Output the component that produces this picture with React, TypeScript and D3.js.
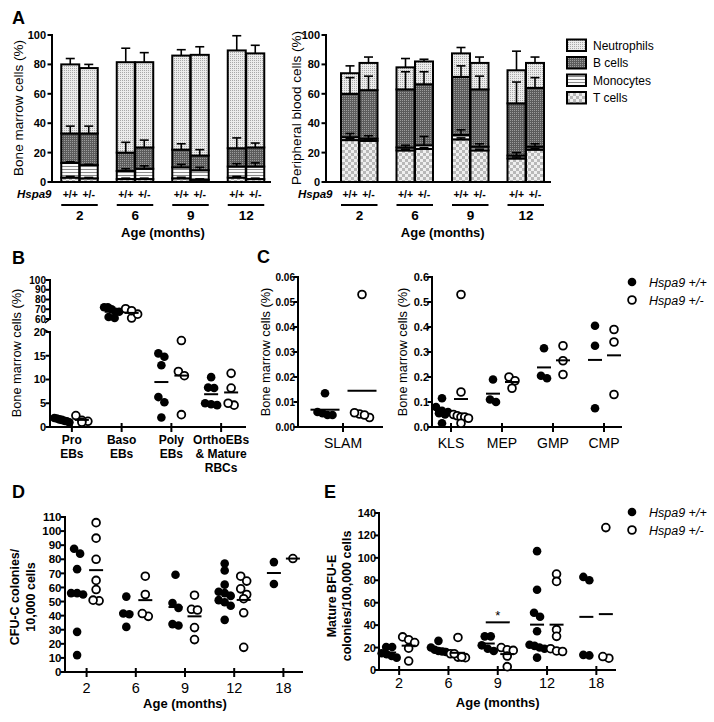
import React from 'react';
import * as d3 from 'd3';

const FONT = "'Liberation Sans', Arial, Helvetica, sans-serif";

// ---------------- Panel A data ----------------
const ageA = ['2', '6', '9', '12'];
const genoLabels = ['+/+', '+/-'];
const layerKeys = ['T', 'Mono', 'B', 'Neut']; // bottom -> top
const legendLabels = ['Neutrophils', 'B cells', 'Monocytes', 'T cells'];
const legendKeys = ['Neut', 'B', 'Mono', 'T'];
const tickA = [0, 20, 40, 60, 80, 100];

// bar order: 2 +/+, 2 +/-, 6 +/+, 6 +/-, 9 +/+, 9 +/-, 12 +/+, 12 +/-
const bmT = [3, 2.5, 2, 2, 2.5, 1.5, 3, 2];
const bmMono = [10, 9, 5.5, 7, 7.5, 6.5, 7.5, 8.5];
const bmB = [20, 21.5, 12.5, 14.5, 12, 10, 12.5, 13];
const bmNeut = [47, 44.5, 61.5, 58, 64, 68.5, 66.5, 64];
const bmTErr = [0.8, 0.6, 0.6, 0.6, 0.7, 0.6, 0.8, 0.6];
const bmMonoErr = [0.8, 0.5, 1.5, 2, 2, 2, 2, 2.5];
const bmBErr = [5, 5, 7, 5, 4, 4, 7, 3];
const bmNeutErr = [4, 2.5, 9.5, 6.5, 4, 5.5, 10, 5.5];

const pbT = [28.5, 28, 21.5, 22.5, 29, 21.5, 16, 22];
const pbMono = [2, 1.5, 2, 2.5, 3, 2.5, 2, 2];
const pbB = [29.5, 33, 39.5, 41.5, 39.5, 39, 35.5, 40];
const pbNeut = [14, 18.5, 15, 15.5, 16, 18, 22.5, 17];
const pbTErr = [1, 1, 0.8, 0.8, 1, 0.8, 1, 0.8];
const pbMonoErr = [2.5, 2, 1.5, 6, 3.5, 2, 2, 2];
const pbBErr = [11, 9.5, 12, 8.5, 7.5, 9, 14.5, 7];
const pbNeutErr = [5, 4, 6, 1.5, 4, 4, 13, 4];

// ---------------- Panel B data ----------------
const catsB = [['Pro', 'EBs'], ['Baso', 'EBs'], ['Poly', 'EBs'], ['OrthoEBs', '& Mature', 'RBCs']];
const bWT = [
  [1.9, 1.6, 1.5, 1.3, 1.2, 1.0, 1.8],
  [72, 72, 70, 67.5, 67.5, 61, 62],
  [15.5, 14.8, 13, 6.3, 5.2, 2],
  [10.5, 8.3, 8.2, 5, 4.6, 4.8],
];
const bHet = [
  [1.2, 1.4, 1.0, 2.4],
  [70.5, 61, 65, 68.5],
  [18.2, 11.7, 10.8, 2.6],
  [11.3, 8.2, 4.6, 5],
];
const tickBLow = [0, 5, 10, 15, 20];
const tickBHigh = [60, 70, 80, 90, 100];

// ---------------- Panel C data ----------------
const slamWT = [0.0135, 0.0055, 0.0048, 0.0048, 0.006];
const slamHet = [0.053, 0.0052, 0.0038, 0.0048, 0.0057];
const catsC = ['KLS', 'MEP', 'GMP', 'CMP'];
const cWT = [
  [0.115, 0.08, 0.065, 0.06, 0.055, 0.05, 0.015],
  [0.19, 0.1, 0.11],
  [0.315, 0.205, 0.195],
  [0.405, 0.325, 0.075],
];
const cHet = [
  [0.53, 0.14, 0.05, 0.045, 0.04, 0.04, 0.035, 0.015],
  [0.2, 0.185, 0.155],
  [0.325, 0.265, 0.21],
  [0.39, 0.34, 0.13],
];
const tickC1 = [0, 0.01, 0.02, 0.03, 0.04, 0.05, 0.06];
const tickC2 = [0, 0.1, 0.2, 0.3, 0.4, 0.5, 0.6];

// ---------------- Panel D / E data ----------------
const agesDE = ['2', '6', '9', '12', '18'];
const dWT = [
  [84, 87.5, 73, 56, 56, 55, 28.5, 12],
  [53.5, 41.5, 41, 32],
  [69, 49, 45.5, 33, 34],
  [77, 72, 62, 57, 56, 54, 51, 49.5, 47, 37],
  [78, 62.5],
];
const dHet = [
  [106, 95, 80, 65, 58.5, 50.5, 51],
  [68, 55, 39.5, 41.5],
  [54.5, 44.5, 44, 31.5, 23],
  [68, 64.5, 59, 55, 52, 42, 17.5],
  [80.5],
];
const eWT = [
  [20.5, 20.5, 15, 14, 12.5, 11],
  [26, 20, 18, 17, 16, 16.5],
  [30, 30, 22, 19, 17],
  [106, 71.5, 51, 47.5, 34.5, 22.5, 21.5, 20, 19, 11],
  [83, 80, 13, 13.5],
];
const eHet = [
  [29.5, 27, 24.5, 19.5, 8],
  [29, 14.5, 11.5, 11, 11.5, 14.5],
  [20, 18, 17.5, 12.5, 3],
  [85.5, 79, 36, 30, 19, 17, 16.5],
  [127, 10.5, 12],
];
const tickD = d3.range(0, 111, 10);
const tickE = d3.range(0, 141, 20);
const sigE = { age: '9', value: 42.5, label: '*' };
const legendGeno = ['Hspa9 +/+', 'Hspa9 +/-'];

// ---------------- helpers ----------------
function swarmOffsets(vals: number[], y: (v: number) => number, spacing = 6, maxW = 15) {
  const order = vals.map((_, i) => i).sort((a, b) => vals[b] - vals[a]);
  const offs = new Array(vals.length).fill(0);
  let i = 0;
  while (i < order.length) {
    const start = y(vals[order[i]]);
    let j = i + 1;
    while (j < order.length && Math.abs(y(vals[order[j]]) - start) < 6) j++;
    const n = j - i;
    const sp = n > 1 ? Math.min(spacing, maxW / (n - 1)) : 0;
    for (let k = 0; k < n; k++) offs[order[i + k]] = (k - (n - 1) / 2) * sp;
    i = j;
  }
  return offs;
}

function Dots({ vals, cx, y, filled, meanW = 14, spacing = 6 }: any) {
  const offs = swarmOffsets(vals, y, spacing);
  const m = d3.mean(vals) as number;
  return (
    <g>
      {vals.map((v: number, i: number) => (
        <circle key={i} cx={cx + offs[i]} cy={y(v)} r={filled ? 4.3 : 3.9}
          fill={filled ? '#000' : '#fff'} stroke="#000" strokeWidth={filled ? 0 : 1.8} />
      ))}
      <line x1={cx - meanW / 2} x2={cx + meanW / 2} y1={y(m)} y2={y(m)} stroke="#000" strokeWidth={2} />
    </g>
  );
}

function YAxis({ x, scale, ticks, fmt, fs = 11, gap = 6 }: any) {
  return (
    <g>
      <line x1={x} x2={x} y1={scale(ticks[0]) + 1} y2={scale(ticks[ticks.length - 1]) - 1} stroke="#000" strokeWidth={2} />
      {ticks.map((t: number) => (
        <g key={t}>
          <line x1={x - 4.5} x2={x} y1={scale(t)} y2={scale(t)} stroke="#000" strokeWidth={2} />
          <text x={x - gap} y={scale(t)} dy="0.36em" textAnchor="end" fontWeight="bold" fontSize={fs}>{fmt(t)}</text>
        </g>
      ))}
    </g>
  );
}

function VLabel({ x, y, text, fs = 13, bold = false }: any) {
  return (
    <text transform={`translate(${x},${y}) rotate(-90)`} textAnchor="middle" dominantBaseline="central"
      fontSize={fs} fontWeight={bold ? 'bold' : 'normal'}>{text}</text>
  );
}

const patFill: Record<string, string> = { Neut: 'url(#patNeut)', B: 'url(#patB)', Mono: 'url(#patMono)', T: 'url(#patT)' };

function StackPanel({ layers, errs, axisX, range, axisEnd, ylabel, ylabelX, hspaX }: any) {
  const y = d3.scaleLinear().domain([0, 100]).range([182, 35]);
  const xg = d3.scaleBand<string>().domain(ageA).range(range);
  const xs = d3.scaleBand<string>().domain(genoLabels).range([0, 37]);
  const rows = layers[0].map((_: number, i: number) =>
    Object.fromEntries(layerKeys.map((k, li) => [k, layers[li][i]])));
  const series = d3.stack<any>().keys(layerKeys)(rows);
  const barLeft = (i: number) => {
    const c = (xg(ageA[Math.floor(i / 2)]) as number) + xg.bandwidth() / 2;
    return c - 18.5 + (xs(genoLabels[i % 2]) as number);
  };
  const bw = 18;
  return (
    <g>
      {series.map((s, li) => s.map((d, i) => (
        <rect key={`${li}-${i}`} x={barLeft(i)} y={y(d[1])} width={bw} height={y(d[0]) - y(d[1])}
          fill={patFill[layerKeys[li]]} stroke="#000" strokeWidth={2} />
      )))}
      {series.map((s, li) => s.map((d, i) => {
        const cx = barLeft(i) + bw / 2;
        const top = y(d[1]);
        const e = y(d[1] + errs[li][i]);
        return (
          <g key={`e${li}-${i}`}>
            <line x1={cx} x2={cx} y1={top} y2={e} stroke="#000" strokeWidth={1.6} />
            <line x1={cx - 4.5} x2={cx + 4.5} y1={e} y2={e} stroke="#000" strokeWidth={1.6} />
          </g>
        );
      }))}
      <YAxis x={axisX} scale={y} ticks={tickA} fmt={(t: number) => `${t}`} />
      <line x1={axisX - 1} x2={axisEnd} y1={182} y2={182} stroke="#000" strokeWidth={2} />
      <VLabel x={ylabelX} y={108} text={ylabel} fs={13.5} />
      <text x={hspaX} y={198} fontSize={11.5} fontWeight="bold" fontStyle="italic">Hspa9</text>
      {layers[0].map((_: number, i: number) => (
        <text key={`g${i}`} x={barLeft(i) + bw / 2} y={198} textAnchor="middle" fontSize={10.5} fontWeight="bold">
          {genoLabels[i % 2]}
        </text>
      ))}
      {ageA.map((a) => {
        const c = (xg(a) as number) + xg.bandwidth() / 2;
        return (
          <g key={a}>
            <line x1={c - 18.5} x2={c + 18} y1={205} y2={205} stroke="#000" strokeWidth={2} />
            <text x={c} y={219.5} textAnchor="middle" fontSize={13.5} fontWeight="bold">{a}</text>
          </g>
        );
      })}
      <text x={((xg('2') as number) + (xg('12') as number) + xg.bandwidth()) / 2} y={237}
        textAnchor="middle" fontSize={13} fontWeight="bold">Age (months)</text>
    </g>
  );
}

function GenoLegend({ x, y }: any) {
  return (
    <g>
      {legendGeno.map((l, i) => (
        <g key={l}>
          <circle cx={x} cy={y + i * 18} r={i === 0 ? 4.3 : 3.9} fill={i === 0 ? '#000' : '#fff'} stroke="#000" strokeWidth={i === 0 ? 0 : 1.8} />
          <text x={x + 17} y={y + i * 18} dy="0.36em" fontSize={12.5} fontStyle="italic">{l}</text>
        </g>
      ))}
    </g>
  );
}

export default function App() {
  // Panel B scales
  const yLow = d3.scaleLinear().domain([0, 20]).range([427, 332]);
  const yHigh = d3.scaleLinear().domain([60, 100]).range([319, 280]);
  const yB = (v: number) => (v <= 40 ? yLow(v) : yHigh(v));
  const xB = d3.scaleBand<string>().domain(catsB.map((c) => c.join(' '))).range([47, 246]);

  // Panel C scales
  const yC1 = d3.scaleLinear().domain([0, 0.06]).range([427, 277]);
  const yC2 = d3.scaleLinear().domain([0, 0.6]).range([427, 277]);
  const xC1 = d3.scalePoint<string>().domain(['SLAM']).range([343, 343]);
  const xC2 = d3.scaleBand<string>().domain(catsC).range([425.5, 629.5]);

  // Panel D / E scales
  const yD = d3.scaleLinear().domain([0, 110]).range([672, 517]);
  const xD = d3.scaleBand<string>().domain(agesDE).range([62, 308]);
  const yE = d3.scaleLinear().domain([0, 140]).range([670, 513]);
  const xE = d3.scaleBand<string>().domain(agesDE).range([374.5, 621]);

  const cB = (i: number) => (xB(catsB[i].join(' ')) as number) + xB.bandwidth() / 2;
  const cC2 = (c: string) => (xC2(c) as number) + xC2.bandwidth() / 2;
  const cD = (a: string) => (xD(a) as number) + xD.bandwidth() / 2;
  const cE = (a: string) => (xE(a) as number) + xE.bandwidth() / 2;

  return (
    <svg width={714} height={722} style={{ position: 'absolute', left: 0, top: 0, background: '#fff' }}
      fontFamily={FONT}>
      <defs>
        <pattern id="patNeut" width={2} height={2} patternUnits="userSpaceOnUse">
          <rect width={2} height={2} fill="#ececec" />
          <rect width={1} height={1} fill="#a8a8a8" />
        </pattern>
        <pattern id="patB" width={2} height={2} patternUnits="userSpaceOnUse">
          <rect width={2} height={2} fill="#5c5c5c" />
          <rect width={1} height={1} fill="#9c9c9c" />
        </pattern>
        <pattern id="patMono" width={3} height={3} patternUnits="userSpaceOnUse">
          <rect width={3} height={3} fill="#fafafa" />
          <rect y={1} width={3} height={1} fill="#8a8a8a" />
        </pattern>
        <pattern id="patT" width={6} height={6} patternUnits="userSpaceOnUse">
          <rect width={6} height={6} fill="#efefef" />
          <rect width={3} height={3} fill="#b8b8b8" />
          <rect x={3} y={3} width={3} height={3} fill="#b8b8b8" />
        </pattern>
      </defs>
      <rect width={714} height={722} fill="#fff" />

      {/* ---------- A ---------- */}
      <text x={12} y={24} fontSize={18} fontWeight="bold">A</text>
      <StackPanel layers={[bmT, bmMono, bmB, bmNeut]} errs={[bmTErr, bmMonoErr, bmBErr, bmNeutErr]}
        axisX={52} range={[52, 274]} axisEnd={271} ylabel="Bone marrow cells (%)" ylabelX={18} hspaX={17} />
      <StackPanel layers={[pbT, pbMono, pbB, pbNeut]} errs={[pbTErr, pbMonoErr, pbBErr, pbNeutErr]}
        axisX={326} range={[331.75, 553.75]} axisEnd={551} ylabel="Peripheral blood cells (%)" ylabelX={296} hspaX={298} />
      {legendLabels.map((l, i) => (
        <g key={l}>
          <rect x={567} y={39.5 + i * 17.5} width={19} height={11.5} fill={patFill[legendKeys[i]]} stroke="#000" strokeWidth={2} />
          <text x={593} y={45.5 + i * 17.5} dy="0.36em" fontSize={12}>{l}</text>
        </g>
      ))}

      {/* ---------- B ---------- */}
      <text x={12} y={264} fontSize={18} fontWeight="bold">B</text>
      <YAxis x={50} scale={yLow} ticks={tickBLow} fmt={(t: number) => `${t}`} fs={11} gap={4} />
      <YAxis x={50} scale={yHigh} ticks={tickBHigh} fmt={(t: number) => `${t}`} fs={10} gap={4} />
      <path d="M45,323 L50,319 M45,330 L50,333" stroke="#000" strokeWidth={1.5} fill="none" />
      <line x1={49} x2={246} y1={427} y2={427} stroke="#000" strokeWidth={2} />
      {catsB.map((c, i) => (
        <g key={i}>
          <line x1={cB(i)} x2={cB(i)} y1={423} y2={432} stroke="#000" strokeWidth={2} />
          {c.map((t, k) => (
            <text key={k} x={cB(i)} y={444 + k * 14} textAnchor="middle" fontSize={12} fontWeight="bold">{t}</text>
          ))}
          <Dots vals={bWT[i]} cx={cB(i) - 10} y={yB} filled />
          <Dots vals={bHet[i]} cx={cB(i) + 10} y={yB} filled={false} />
        </g>
      ))}
      <VLabel x={16} y={353} text="Bone marrow cells (%)" fs={12.8} />

      {/* ---------- C ---------- */}
      <text x={257} y={263} fontSize={18} fontWeight="bold">C</text>
      <YAxis x={298} scale={yC1} ticks={tickC1} fmt={d3.format('.2f')} fs={10} gap={3} />
      <line x1={297} x2={383} y1={427} y2={427} stroke="#000" strokeWidth={2} />
      <line x1={xC1('SLAM')} x2={xC1('SLAM')} y1={423} y2={432} stroke="#000" strokeWidth={2} />
      <text x={xC1('SLAM')} y={448} textAnchor="middle" fontSize={14}>SLAM</text>
      <Dots vals={slamWT} cx={(xC1('SLAM') as number) - 18} y={yC1} filled meanW={29} spacing={7} />
      <Dots vals={slamHet} cx={(xC1('SLAM') as number) + 19} y={yC1} filled={false} meanW={29} spacing={7} />
      <VLabel x={265} y={352} text="Bone marrow cells (%)" fs={12.8} />

      <YAxis x={432} scale={yC2} ticks={tickC2} fmt={d3.format('.1f')} fs={11} gap={3} />
      <line x1={431} x2={622} y1={427} y2={427} stroke="#000" strokeWidth={2} />
      {catsC.map((c, i) => (
        <g key={c}>
          <line x1={cC2(c)} x2={cC2(c)} y1={423} y2={432} stroke="#000" strokeWidth={2} />
          <text x={cC2(c)} y={448} textAnchor="middle" fontSize={14}>{c}</text>
          <Dots vals={cWT[i]} cx={cC2(c) - 9} y={yC2} filled />
          <Dots vals={cHet[i]} cx={cC2(c) + 10} y={yC2} filled={false} />
        </g>
      ))}
      <VLabel x={402} y={352} text="Bone marrow cells (%)" fs={12.8} />
      <GenoLegend x={632} y={282} />

      {/* ---------- D ---------- */}
      <text x={12} y={498} fontSize={18} fontWeight="bold">D</text>
      <YAxis x={65} scale={yD} ticks={tickD} fmt={(t: number) => `${t}`} fs={11.5} gap={3.5} />
      <line x1={64} x2={303} y1={672} y2={672} stroke="#000" strokeWidth={2} />
      {agesDE.map((a, i) => (
        <g key={a}>
          <line x1={cD(a)} x2={cD(a)} y1={668} y2={677} stroke="#000" strokeWidth={2} />
          <text x={cD(a)} y={693} textAnchor="middle" fontSize={14.5}>{a}</text>
          <Dots vals={dWT[i]} cx={cD(a) - 9.5} y={yD} filled />
          <Dots vals={dHet[i]} cx={cD(a) + 9.5} y={yD} filled={false} />
        </g>
      ))}
      <text x={(cD('2') + cD('18')) / 2} y={708} textAnchor="middle" fontSize={13} fontWeight="bold">Age (months)</text>
      <VLabel x={15} y={597} text="CFU-C colonies/" fs={12.5} bold />
      <VLabel x={31} y={597} text="10,000 cells" fs={12.5} bold />

      {/* ---------- E ---------- */}
      <text x={324} y={498} fontSize={18} fontWeight="bold">E</text>
      <YAxis x={379} scale={yE} ticks={tickE} fmt={(t: number) => `${t}`} fs={11} gap={3} />
      <line x1={378} x2={616} y1={670} y2={670} stroke="#000" strokeWidth={2} />
      {agesDE.map((a, i) => (
        <g key={a}>
          <line x1={cE(a)} x2={cE(a)} y1={666} y2={675} stroke="#000" strokeWidth={2} />
          <text x={cE(a)} y={688} textAnchor="middle" fontSize={14.5}>{a}</text>
          <Dots vals={eWT[i]} cx={cE(a) - 10} y={yE} filled />
          <Dots vals={eHet[i]} cx={cE(a) + 9.5} y={yE} filled={false} />
        </g>
      ))}
      <line x1={cE(sigE.age) - 12} x2={cE(sigE.age) + 12} y1={yE(sigE.value)} y2={yE(sigE.value)} stroke="#000" strokeWidth={2} />
      <text x={cE(sigE.age)} y={yE(sigE.value) - 2} textAnchor="middle" fontSize={13}>{sigE.label}</text>
      <text x={(cE('2') + cE('18')) / 2} y={707} textAnchor="middle" fontSize={13} fontWeight="bold">Age (months)</text>
      <VLabel x={332} y={596} text="Mature BFU-E" fs={12.5} bold />
      <VLabel x={347} y={596} text="colonies/100,000 cells" fs={12.5} bold />
      <GenoLegend x={632} y={512} />
    </svg>
  );
}
